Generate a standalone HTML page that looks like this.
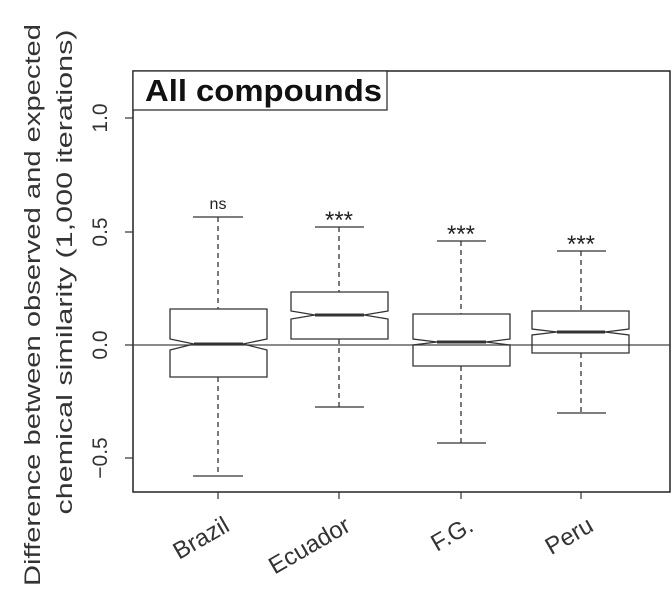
<!DOCTYPE html>
<html><head><style>body{margin:0;background:#fff}</style></head><body>
<svg width="672" height="605" xmlns="http://www.w3.org/2000/svg" font-family="Liberation Sans, sans-serif">
<rect x="0" y="0" width="672" height="605" fill="#fff"/>
<rect x="133" y="71" width="537" height="421" fill="none" stroke="#222" stroke-width="1.5"/>
<rect x="133" y="71" width="254" height="39" fill="#fff" stroke="#222" stroke-width="1.2"/>
<text x="145" y="101" font-size="31" font-weight="bold" fill="#111" textLength="237" lengthAdjust="spacingAndGlyphs">All compounds</text>
<line x1="133" y1="345" x2="670" y2="345" stroke="#444" stroke-width="1.2"/>
<g stroke="#333" stroke-width="1.2">
<line x1="133" y1="118" x2="133" y2="458"/>
<line x1="125" y1="118" x2="133" y2="118"/>
<line x1="125" y1="232" x2="133" y2="232"/>
<line x1="125" y1="345" x2="133" y2="345"/>
<line x1="125" y1="458" x2="133" y2="458"/>
<line x1="218" y1="492" x2="218" y2="499"/>
<line x1="339" y1="492" x2="339" y2="499"/>
<line x1="461" y1="492" x2="461" y2="499"/>
<line x1="581" y1="492" x2="581" y2="499"/>
</g>
<g font-size="21" fill="#333" text-anchor="middle">
<text transform="translate(107,118) rotate(-90)">1.0</text>
<text transform="translate(107,232) rotate(-90)">0.5</text>
<text transform="translate(107,345) rotate(-90)">0.0</text>
<text transform="translate(107,458) rotate(-90)">−0.5</text>
</g>
<g font-size="22" fill="#333" text-anchor="middle">
<text transform="translate(40,305) rotate(-90)" textLength="562" lengthAdjust="spacingAndGlyphs">Difference between observed and expected</text>
<text transform="translate(72,272) rotate(-90)" textLength="485" lengthAdjust="spacingAndGlyphs">chemical similarity (1,000 iterations)</text>
</g>
<g font-size="24" fill="#333" text-anchor="end">
<text transform="translate(231,530) rotate(-30)">Brazil</text>
<text transform="translate(352,530) rotate(-30)">Ecuador</text>
<text transform="translate(475,530) rotate(-30)">F.G.</text>
<text transform="translate(595,530) rotate(-30)">Peru</text>
</g>
<g stroke="#333" stroke-width="1.3" fill="none">
<line x1="218" y1="217" x2="218" y2="309" stroke-dasharray="5,4"/>
<line x1="218" y1="377" x2="218" y2="476" stroke-dasharray="5,4"/>
<line x1="193" y1="217" x2="243" y2="217"/><line x1="193" y1="476" x2="243" y2="476"/>
<path d="M170 309H267V339L243 344L267 350V377H170V350L194 344L170 339Z"/>
<line x1="194" y1="344" x2="243" y2="344" stroke-width="3"/>
<line x1="339" y1="227" x2="339" y2="292" stroke-dasharray="5,4"/>
<line x1="339" y1="339" x2="339" y2="407" stroke-dasharray="5,4"/>
<line x1="315" y1="227" x2="364" y2="227"/><line x1="315" y1="407" x2="364" y2="407"/>
<path d="M291 292H388V311L364 315L388 319V339H291V319L315 315L291 311Z"/>
<line x1="315" y1="315" x2="364" y2="315" stroke-width="3"/>
<line x1="461" y1="241" x2="461" y2="314" stroke-dasharray="5,4"/>
<line x1="461" y1="366" x2="461" y2="443" stroke-dasharray="5,4"/>
<line x1="437" y1="241" x2="486" y2="241"/><line x1="437" y1="443" x2="486" y2="443"/>
<path d="M413 314H510V339L486 342L510 345V366H413V345L437 342L413 339Z"/>
<line x1="437" y1="342" x2="486" y2="342" stroke-width="3"/>
<line x1="581" y1="251" x2="581" y2="311" stroke-dasharray="5,4"/>
<line x1="581" y1="353" x2="581" y2="413" stroke-dasharray="5,4"/>
<line x1="557" y1="251" x2="606" y2="251"/><line x1="557" y1="413" x2="606" y2="413"/>
<path d="M532 311H629V329L605 332L629 335V353H532V335L557 332L532 329Z"/>
<line x1="557" y1="332" x2="605" y2="332" stroke-width="3"/>
</g>
<g font-size="24" fill="#222" text-anchor="middle">
<text x="218" y="209" font-size="16">ns</text>
<text x="339" y="228">***</text>
<text x="461" y="242">***</text>
<text x="581" y="252">***</text>
</g>
</svg>
</body></html>
